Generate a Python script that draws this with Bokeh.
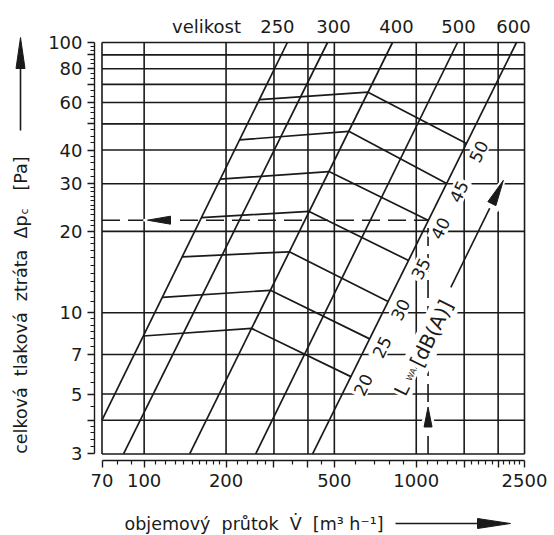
import math

from bokeh.plotting import figure
from bokeh.models import Range1d, FixedTicker, Label
from bokeh.embed import file_html
from bokeh.resources import INLINE

# ---------------------------------------------------------------- data
# grid / tick values: volume flow [m3/h] and total pressure drop [Pa]
flow_grid = [70, 100, 200, 300, 400, 500, 1000, 1500, 2000, 2500]
flow_labels = ["70", "100", "200", "", "", "500", "1000", "", "", "2500"]
flow_minor = [80, 90, 110, 120, 130, 140, 150, 160, 170, 180, 190,
              220, 240, 260, 280, 350, 450, 600, 700, 800, 900,
              1100, 1200, 1300, 1400, 1600, 1700, 1800, 1900,
              2100, 2200, 2300, 2400]
dp_grid = [3, 4, 5, 7, 10, 20, 30, 40, 50, 60, 70, 80, 90, 100]
dp_labels = ["3", "", "5", "7", "10", "20", "30", "40", "", "60", "", "80", "", "100"]
dp_minor = [3.2, 3.4, 3.6, 3.8, 4.5, 5.5, 6, 6.5, 7.5, 8, 8.5, 9, 9.5,
            11, 12, 13, 14, 15, 16, 17, 18, 19, 21, 22, 23, 24, 25, 26, 27, 28, 29,
            32, 34, 36, 38, 42.5, 45, 47.5, 52.5, 55, 57.5,
            63.3, 66.7, 73.3, 76.7, 83.3, 86.7, 93.3, 96.7]

# unit sizes: characteristic line end points (flow, pressure drop)
sizes = ["250", "300", "400", "500", "600"]
size_flow_lo = [70, 84, 147, 257, 416]
size_dp_lo = [4.0, 3, 3, 3, 3]
size_flow_hi = [336, 472, 818, 1418, 2336]
size_dp_hi = [100, 100, 100, 100, 100]

# equal sound power lines L_WA [dB(A)]: corners on sizes 250, 400 and 600
lwa_levels = ["20", "25", "30", "35", "40", "45", "50"]
lwa_flow_a = [99.3, 116.6, 138, 162.4, 190.5, 224, 265]
lwa_dp_a = [8.2, 11.4, 16.1, 22.5, 31.2, 43.6, 61.5]
lwa_flow_b = [248, 291, 342, 404, 478, 565, 665]
lwa_dp_b = [8.75, 12.1, 16.8, 23.7, 33.3, 46.9, 65.5]
lwa_flow_c = [575, 674, 788, 937, 1105, 1294, 1530]
lwa_dp_c = [5.8, 8.0, 11.0, 15.6, 22.0, 30.1, 42.3]

# worked example: operating point read-off
op_flow, op_dp = 1105, 22.0
# direction arrow of increasing L_WA
lwa_arrow_flow = [1340, 2090]
lwa_arrow_dp = [12.4, 30.9]

# ---------------------------------------------------------------- page geometry
W, H = 554, 535
INK = "#1a1a1a"
FONT = "DejaVu Sans"
X70, XDEC = 101.5, 272.1      # page x of 70 m3/h, pixels per decade
Y100, YDEC = 42.0, 270.2      # page y of 100 Pa, pixels per decade
SLOPE_DEG = 63.8              # direction of the size lines on the page


def fx(px):
    return 70 * 10 ** ((px - X70) / XDEC)


def fy(py):
    return 100 * 10 ** ((Y100 - py) / YDEC)


def page(v, d):
    return X70 + XDEC * math.log10(v / 70), Y100 - YDEC * math.log10(d / 100)


def head(tx, ty, ang, length, width, grow=0.0):
    """Slender arrow head given in page pixels, returned in data coordinates."""
    a = math.radians(ang)
    ux, uy = math.cos(a), -math.sin(a)
    nx, ny = math.sin(a), math.cos(a)
    tx, ty = tx + grow * ux, ty + grow * uy
    L, hw = length + 2 * grow, width / 2 + grow
    bx, by = tx - L * ux, ty - L * uy
    pts = [(tx, ty), (bx + hw * nx, by + hw * ny), (bx - hw * nx, by - hw * ny)]
    return [fx(x) for x, _ in pts], [fy(y) for _, y in pts]


# the plotting frame fills the whole page; axes sit at fixed positions
p = figure(width=W, height=H, x_axis_type="log", y_axis_type="log",
           x_range=Range1d(fx(0), fx(W)), y_range=Range1d(fy(H), fy(0)),
           output_backend="svg", toolbar_location=None,
           min_border=0, min_border_left=0, min_border_right=0,
           min_border_top=0, min_border_bottom=0)
p.outline_line_color = None
p.grid.visible = False
p.background_fill_color = "white"
p.border_fill_color = "white"

# ---------------------------------------------------------------- axes
xa, ya = p.xaxis[0], p.yaxis[0]
xa.fixed_location = fy(460)
ya.fixed_location = fx(94)
for ax, ticks, minor, labels in ((xa, flow_grid, flow_minor, flow_labels),
                                 (ya, dp_grid, dp_minor, dp_labels)):
    ax.ticker = FixedTicker(ticks=ticks, minor_ticks=minor)
    ax.bounds = (ticks[0], ticks[-1])
    ax.major_label_overrides = dict(zip(ticks, labels))
    ax.axis_line_color = INK
    ax.axis_line_width = 1.4
    ax.major_tick_line_color = INK
    ax.minor_tick_line_color = INK
    ax.major_tick_line_width = 1.4
    ax.minor_tick_line_width = 1.2
    ax.major_tick_in = 0
    ax.major_tick_out = 7
    ax.minor_tick_in = 0
    ax.minor_tick_out = 4
    ax.major_label_text_font = FONT
    ax.major_label_text_font_size = "18px"
    ax.major_label_text_color = INK
xa.major_label_standoff = 6
ya.major_label_standoff = 5

# ---------------------------------------------------------------- grid
lw = 1.6
p.segment(x0=flow_grid, y0=[dp_grid[0]] * len(flow_grid),
          x1=flow_grid, y1=[dp_grid[-1]] * len(flow_grid),
          line_color=INK, line_width=lw)
p.segment(x0=[flow_grid[0]] * len(dp_grid), y0=dp_grid,
          x1=[flow_grid[-1]] * len(dp_grid), y1=dp_grid,
          line_color=INK, line_width=lw)

# ---------------------------------------------------------------- size lines
p.segment(x0=size_flow_lo, y0=size_dp_lo, x1=size_flow_hi, y1=size_dp_hi,
          line_color=INK, line_width=1.7)

# ---------------------------------------------------------------- L_WA lines
p.multi_line(xs=[[a, b, c] for a, b, c in zip(lwa_flow_a, lwa_flow_b, lwa_flow_c)],
             ys=[[a, b, c] for a, b, c in zip(lwa_dp_a, lwa_dp_b, lwa_dp_c)],
             line_color=INK, line_width=1.7)

# ---------------------------------------------------------------- worked example
p.line([flow_grid[0], op_flow], [op_dp, op_dp], line_color=INK,
       line_width=1.6, line_dash="18 8")
p.line([op_flow, op_flow], [dp_grid[0], op_dp], line_color=INK,
       line_width=1.6, line_dash="18 8")
p.line(lwa_arrow_flow, lwa_arrow_dp, line_color=INK, line_width=1.6)

ox, oy = page(op_flow, op_dp)
_, by = page(op_flow, dp_grid[0])
tx, ty = page(lwa_arrow_flow[1], lwa_arrow_dp[1])
heads = [
    (147, oy, 180, 23, 8),        # read-off to the pressure axis
    (ox, by - 47, 90, 20, 8),     # up from the flow axis
    (tx, ty, SLOPE_DEG, 26, 9),   # increasing L_WA
]
masks = [head(*h, grow=4) for h in heads]
p.patches(xs=[m[0] for m in masks], ys=[m[1] for m in masks],
          fill_color="white", line_color="white", line_width=2)

# arrows beside the axis titles
title_shafts_x = [[fx(20), fx(20)], [fx(395), fx(480)]]
title_shafts_y = [[fy(130), fy(66)], [fy(523), fy(523)]]
p.multi_line(xs=title_shafts_x, ys=title_shafts_y, line_color=INK, line_width=1.6)
heads += [(20, 37, 90, 31, 9), (510, 523, 0, 33, 10)]

tri = [head(*h) for h in heads]
p.patches(xs=[t[0] for t in tri], ys=[t[1] for t in tri],
          fill_color=INK, line_color=INK, line_width=1)


# ---------------------------------------------------------------- texts
def label(x, y, text, size="17px", angle=0.0, align="center", baseline="middle",
          xo=0, yo=0, bg=None, pad=0):
    lab = Label(x=x, y=y, text=text, angle=angle, angle_units="deg",
                x_offset=xo, y_offset=yo,
                text_font=FONT, text_font_size=size, text_color=INK,
                text_align=align, text_baseline=baseline)
    if bg:
        lab.background_fill_color = bg
        lab.padding = pad
    p.add_layout(lab)


# level numbers along size 600
for lvl, v, d in zip(lwa_levels, lwa_flow_c, lwa_dp_c):
    label(v, d, lvl, size="17px", angle=SLOPE_DEG, xo=12, yo=-8, bg="white", pad=2)

# L_WA [dB(A)]
label(fx(401), fy(389), "L", size="19px", angle=SLOPE_DEG, bg="white", pad=1)
label(fx(411), fy(374), "WA", size="8px", angle=SLOPE_DEG, bg="white", pad=1)
label(fx(431), fy(333), "[dB(A)]", size="20px", angle=SLOPE_DEG, bg="white", pad=2)

# sizes along the top
label(fx(206), fy(26), "velikost", size="18px")
for s, v, xo in zip(sizes, size_flow_hi, [-10, 6, 4, 1, -3]):
    label(v, fy(26), s, size="18px", xo=xo)

# axis titles
NB = "\u00a0\u00a0"
label(fx(20), fy(215), "celková" + NB + "tlaková" + NB + "ztráta" + NB + "Δp",
      size="17.5px", angle=90, align="right")
label(fx(24), fy(214), "c", size="11px", angle=90, align="left")
label(fx(20), fy(190), "[Pa]", size="17.5px", angle=90, align="left")
label(fx(124), fy(523), "objemový" + NB + "průtok" + NB + "V\u0307" + NB + "[m³ h⁻¹]",
      size="17.5px", align="left")

open("out.html", "w").write(file_html(p, INLINE))
